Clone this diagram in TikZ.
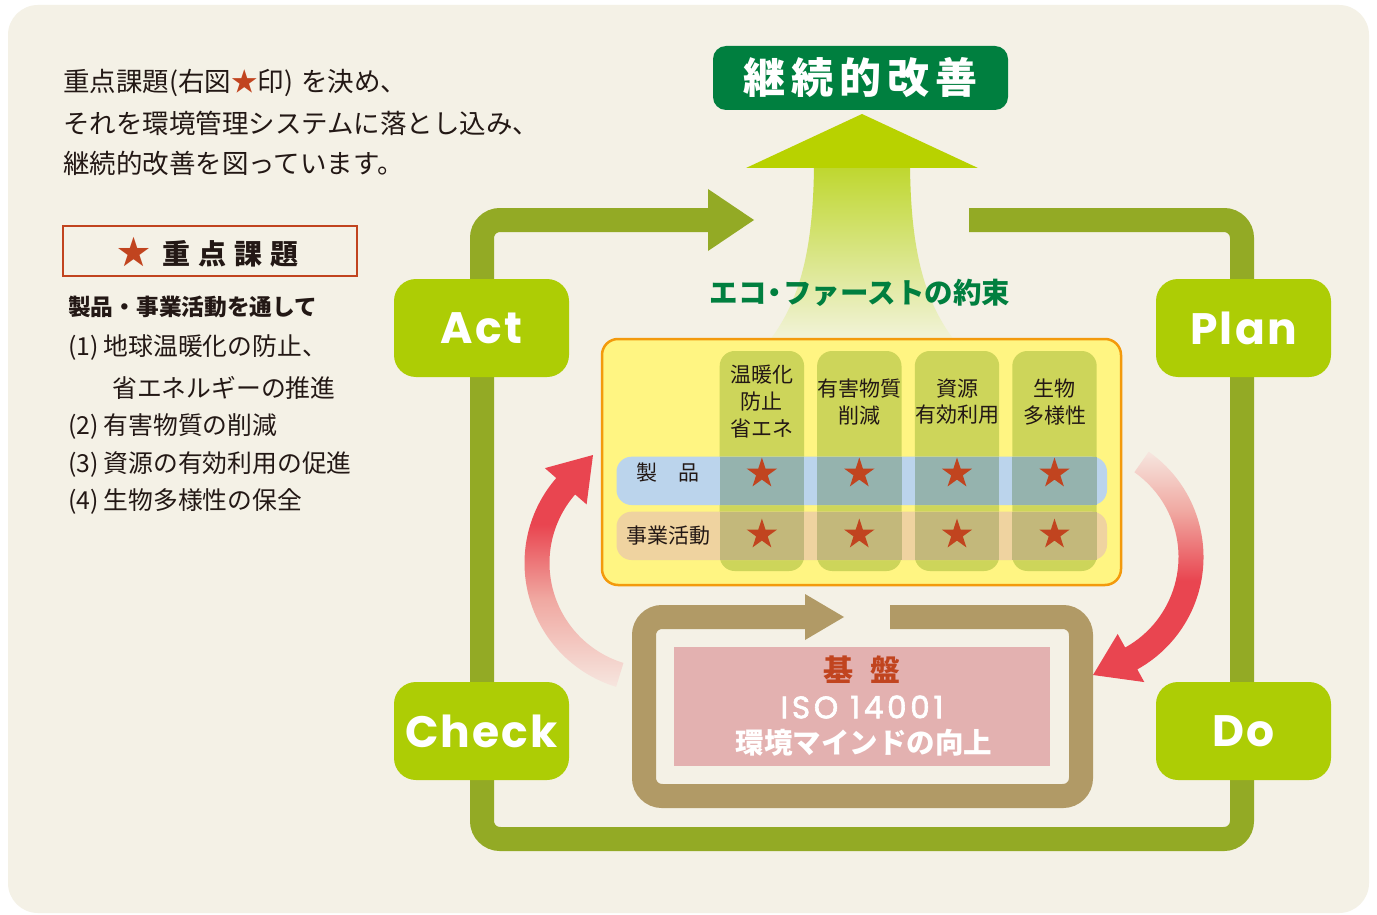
\documentclass[tikz,border=0pt]{standalone}
\usepackage{fontspec}
\newfontfamily\jp{Noto Sans CJK JP}
\newfontfamily\pop{Poppins}[LetterSpace=5]
\newfontfamily\popiso{Poppins}[LetterSpace=12, FakeBold=2]
\usetikzlibrary{calc,shapes.geometric}
\definecolor{bgc}{HTML}{F4F1E6}
\definecolor{loopgreen}{HTML}{93AA25}
\definecolor{boxgreen}{HTML}{ADCD05}
\definecolor{dkgreen}{HTML}{007F3F}
\definecolor{headgreen}{HTML}{B8D200}
\definecolor{shafttop}{HTML}{BFD72F}
\definecolor{shaftbot}{HTML}{F2F3DA}
\definecolor{yfill}{HTML}{FFF582}
\definecolor{yedge}{HTML}{F39A0C}
\definecolor{colfill}{HTML}{CDD55A}
\definecolor{bluerow}{HTML}{BBD4EC}
\definecolor{tanrow}{HTML}{EFD3A0}
\definecolor{bluex}{HTML}{95B3AE}
\definecolor{tanx}{HTML}{C3B87B}
\definecolor{tanc}{HTML}{B19A66}
\definecolor{pinkc}{HTML}{E3B1B0}
\definecolor{starred}{HTML}{C1441F}
\definecolor{arrowred}{HTML}{E94550}
\definecolor{fadeA}{HTML}{F6E6DF}
\definecolor{fadeB}{HTML}{F0A8A1}
\definecolor{textdark}{HTML}{231815}
\pgfdeclareverticalshading{redL}{100bp}{color(0bp)=(fadeA); color(25bp)=(fadeA); color(44bp)=(fadeB); color(60bp)=(arrowred); color(100bp)=(arrowred)}
\pgfdeclareverticalshading{redR}{100bp}{color(0bp)=(arrowred); color(47bp)=(arrowred); color(62bp)=(fadeB); color(75bp)=(fadeA); color(100bp)=(fadeA)}
\begin{document}
\begin{tikzpicture}[x=1pt,y=1pt,
  pdca/.style={fill=boxgreen, rounded corners=22pt, minimum width=175pt, minimum height=98pt, inner sep=0pt, text=white, font=\pop\bfseries\fontsize{44}{44}\selectfont},
  loopline/.style={draw=loopgreen, line width=24pt, rounded corners=18pt},
  tanline/.style={draw=tanc, line width=24pt, rounded corners=18pt},
  titlebox/.style={fill=dkgreen, rounded corners=13pt, minimum width=295pt, minimum height=64pt, inner sep=0pt, text=white, font=\jp\bfseries\fontsize{42}{42}\selectfont},
  colhead/.style={font=\jp\fontsize{21}{26.7}\selectfont, text=textdark, align=center, inner sep=0pt},
  rowlab/.style={font=\jp\fontsize{21}{21}\selectfont, text=textdark, inner sep=0pt},
  bigstar/.style={star, star points=5, star point ratio=2.618, fill=starred, minimum size=32pt, inner sep=0pt},
  introtext/.style={anchor=west, inner sep=0pt, font=\jp\fontsize{26.5}{26.5}\selectfont, text=textdark},
  listtext/.style={anchor=west, inner sep=0pt, font=\jp\fontsize{24.8}{24.8}\selectfont, text=textdark},
]
\useasboundingbox (0,0) rectangle (1377,-915);
\fill[white] (0,0) rectangle (1377,-915);
\fill[bgc, rounded corners=30pt] (8,-5) rectangle (1369,-913);

% ---- green PDCA loop
\coordinate (gS) at (969,-220);
\coordinate (gTR) at (1242,-220);
\coordinate (gBR) at (1242,-839);
\coordinate (gBL) at (482,-839);
\coordinate (gTL) at (482,-220);
\coordinate (gE) at (710,-220);
\coordinate (gTip) at (754,-220);
\draw[loopline] (gS) -- (gTR) -- (gBR) -- (gBL) -- (gTL) -- (gE);
\fill[loopgreen] (708,-189) -- (gTip) -- (708,-251) -- cycle;

% ---- big up arrow
\shade[top color=shafttop, bottom color=shaftbot] (814,-167) .. controls (813,-250) and (800,-300) .. (770,-340) -- (954,-340) .. controls (924,-300) and (911,-250) .. (910,-167) -- cycle;
\fill[headgreen] (746,-168) -- (862,-114) -- (978,-168) -- cycle;

\node[titlebox] (title) at (860.5,-78) {継\hspace{6pt}続\hspace{6pt}的\hspace{6pt}改\hspace{6pt}善};
\node[inner sep=0pt, text=dkgreen, font=\jp\bfseries\fontsize{28.5}{28.5}\selectfont] (eco) at (860,-293) {エコ\hspace{-6pt}・\hspace{-6pt}ファーストの約束};

% ---- PDCA boxes
\node[pdca] (act) at (481.5,-328) {Act};
\node[pdca] (plan) at (1243.5,-328) {Plan};
\node[pdca] (check) at (481.5,-731) {Check};
\node[pdca] (do) at (1243.5,-731) {Do};

% ---- yellow matrix
\draw[draw=yedge, fill=yfill, line width=2.5pt, rounded corners=16pt] (602,-339) rectangle (1121,-585);
\foreach \cx in {761.9,859.3,957,1054.5}
  \fill[colfill, rounded corners=15pt] ({\cx-42.2},-351) rectangle ({\cx+42.2},-571);
\fill[bluerow, rounded corners=15pt] (616.5,-456.7) rectangle (1107,-505);
\fill[tanrow, rounded corners=15pt] (616.5,-511.7) rectangle (1107,-560);
\foreach \cx in {761.9,859.3,957,1054.5}{
  \fill[bluex] ({\cx-42.2},-456.7) rectangle ({\cx+42.2},-505);
  \fill[tanx] ({\cx-42.2},-511.7) rectangle ({\cx+42.2},-560);
  \node[bigstar] at (\cx,-473.5) {};
  \node[bigstar] at (\cx,-534.5) {};
}
\node[colhead] (h1) at (761.9,-401.7) {温暖化\\防止\\省エネ};
\node[colhead] (h2) at (859.3,-401.7) {有害物質\\削減};
\node[colhead] (h3) at (957,-401.7) {資源\\有効利用};
\node[colhead] (h4) at (1054.5,-401.7) {生物\\多様性};
\node[rowlab] (rp) at (668,-472.5) {製　品};
\node[rowlab] (rb) at (668,-535.8) {事業活動};

% ---- base loop
\coordinate (bS) at (890,-617);
\coordinate (bTR) at (1081,-617);
\coordinate (bBR) at (1081,-796);
\coordinate (bBL) at (644,-796);
\coordinate (bTL) at (644,-617);
\coordinate (bE) at (807,-617);
\coordinate (bTip) at (844,-617);
\draw[tanline] (bS) -- (bTR) -- (bBR) -- (bBL) -- (bTL) -- (bE);
\fill[tanc] (805,-594) -- (bTip) -- (805,-640) -- cycle;
\node[fill=pinkc, minimum width=376pt, minimum height=119pt, inner sep=0pt] (base) at (862,-706.5) {};
\node[inner sep=0pt, text=starred, font=\jp\bfseries\fontsize{30}{30}\selectfont] (kiban) at (862,-670) {基\hspace{17pt}盤};
\node[inner sep=0pt, text=white, font=\popiso\fontsize{31}{31}\selectfont] (iso) at (862,-707) {ISO 14001};
\node[inner sep=0pt, text=white, font=\jp\bfseries\fontsize{28.5}{28.5}\selectfont] (mind) at (864,-743) {環境マインドの向上};

% ---- red arrows
\coordinate (cL) at (654,-563);
\coordinate (tipL) at (593,-455);
\shade[shading=redL] ($(cL)+(253:129.5)$) arc[start angle=253, end angle=139, radius=129.5] -- ($(cL)+(139:144.6)$) -- (tipL) -- ($(cL)+(139:89.3)$) -- ($(cL)+(139:104.5)$) arc[start angle=139, end angle=253, radius=104.5] -- cycle;
\coordinate (cR) at (1075,-557);
\coordinate (tipR) at (1093,-675);
\shade[shading=redR] ($(cR)+(55:128.5)$) arc[start angle=55, end angle=-61, radius=128.5] -- ($(cR)+(-61:143)$) -- (tipR) -- ($(cR)+(-61:88)$) -- ($(cR)+(-61:103.5)$) arc[start angle=-61, end angle=55, radius=103.5] -- cycle;

% ---- left texts
\node[introtext] (i1) at (63,-83) {重点課題(右図{\color{starred}★}印)\hspace{8pt}を決め、};
\node[introtext] (i2) at (63,-123) {それを環境管理システムに落とし込み、};
\node[introtext] (i3) at (63,-163) {継続的改善を図っています。};

\node[draw=starred, line width=1.3pt, minimum width=294pt, minimum height=50pt, inner sep=0pt] (legend) at (210,-251) {};
\node[inner sep=0pt, text=textdark, font=\jp\bfseries\fontsize{28}{28}\selectfont] (legtxt) at (208,-252) {{\color{starred}\fontsize{33}{33}\selectfont ★}\hspace{12pt}重\hspace{8pt}点\hspace{8pt}課\hspace{8pt}題};
\node[anchor=west, inner sep=0pt, text=textdark, font=\jp\bfseries\fontsize{22.7}{22.7}\selectfont] (sub) at (68,-307) {製品・事業活動を通して};
\node[listtext] (l1) at (68,-348) {(1)\hspace{5pt}地球温暖化の防止、};
\node[listtext] (l1b) at (112,-388) {省エネルギーの推進};
\node[listtext] (l2) at (68,-427) {(2)\hspace{5pt}有害物質の削減};
\node[listtext] (l3) at (68,-465) {(3)\hspace{5pt}資源の有効利用の促進};
\node[listtext] (l4) at (68,-501) {(4)\hspace{5pt}生物多様性の保全};
\end{tikzpicture}
\end{document}
